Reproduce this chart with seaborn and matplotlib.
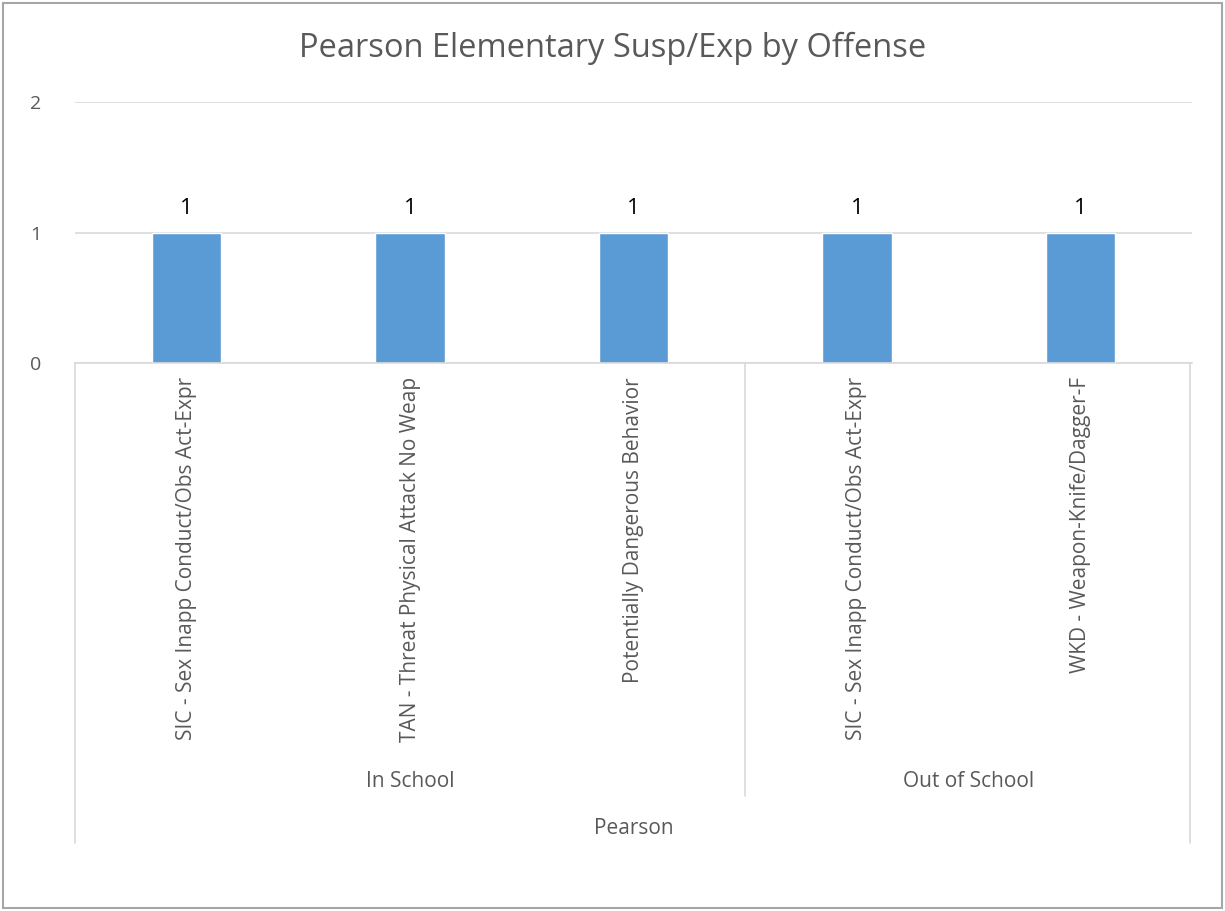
import matplotlib.pyplot as plt
import seaborn as sns
import pandas as pd

# data
offenses = ["SIC - Sex Inapp Conduct/Obs Act-Expr",
            "TAN - Threat Physical Attack No Weap",
            "Potentially Dangerous Behavior",
            "SIC - Sex Inapp Conduct/Obs Act-Expr ",
            "WKD - Weapon-Knife/Dagger-F"]
groups = ["In School", "In School", "In School", "Out of School", "Out of School"]
counts = [1, 1, 1, 1, 1]
school = "Pearson"
title = "Pearson Elementary Susp/Exp by Offense"

df = pd.DataFrame({"offense": offenses, "group": groups, "count": counts})

sns.set_theme(style="white")
plt.rcParams["font.family"] = ["Open Sans", "DejaVu Sans"]

grey = "#595959"
line_c = "#D9D9D9"

fig = plt.figure(figsize=(12.25, 9.11), dpi=100)
ax = fig.add_axes([75 / 1225, 1 - 363 / 911, (1192 - 75) / 1225, (363 - 102) / 911])

sns.barplot(data=df, x="offense", y="count", color="#5B9BD5", width=0.31,
            saturation=1, ax=ax, errorbar=None)

ax.set_ylim(0, 2)
ax.set_xlim(-0.5, len(offenses) - 0.5)
ax.set_yticks([0, 1, 2])
ax.yaxis.grid(True, color=line_c, linewidth=1.2)
ax.set_axisbelow(True)
for s in ["top", "right", "left"]:
    ax.spines[s].set_visible(False)
ax.spines["bottom"].set_color(line_c)
ax.spines["bottom"].set_linewidth(1.2)
ax.tick_params(axis="y", length=0, pad=24, labelsize=14, labelcolor=grey)
ax.tick_params(axis="x", length=0, pad=10)
ax.set_xticks(range(len(offenses)))
ax.set_xticklabels([o.strip() for o in offenses], rotation=90, va="top",
                   ha="center", fontsize=15, color=grey)
ax.set_xlabel("")
ax.set_ylabel("")

# value labels
for c in ax.containers:
    ax.bar_label(c, labels=[str(v) for v in counts], padding=10, fontsize=16, color="black")

# category group separators and labels
tr = ax.get_xaxis_transform()
ax.plot([-0.5, -0.5], [0, -1.84], transform=tr, color=line_c, lw=1.2, clip_on=False)
ax.plot([2.5, 2.5], [0, -1.66], transform=tr, color=line_c, lw=1.2, clip_on=False)
ax.plot([4.49, 4.49], [0, -1.84], transform=tr, color=line_c, lw=1.2, clip_on=False)
for g in ["In School", "Out of School"]:
    idx = [i for i, x in enumerate(groups) if x == g]
    ax.text(sum(idx) / len(idx), -1.605, g, transform=tr, ha="center", va="center",
            fontsize=15, color=grey)
ax.text((len(offenses) - 1) / 2, -1.785, school, transform=tr, ha="center", va="center",
        fontsize=15, color=grey)

fig.text(0.5, 1 - 48 / 911, title, ha="center", va="center", fontsize=23.5, color=grey)

# outer chart border
fig.patches.append(plt.Rectangle((3 / 1225, 3 / 911), 1 - 6 / 1225, 1 - 6 / 911,
                                 transform=fig.transFigure, fill=False,
                                 edgecolor="#A6A6A6", lw=1.5))

fig.savefig("out.png", dpi=100)
